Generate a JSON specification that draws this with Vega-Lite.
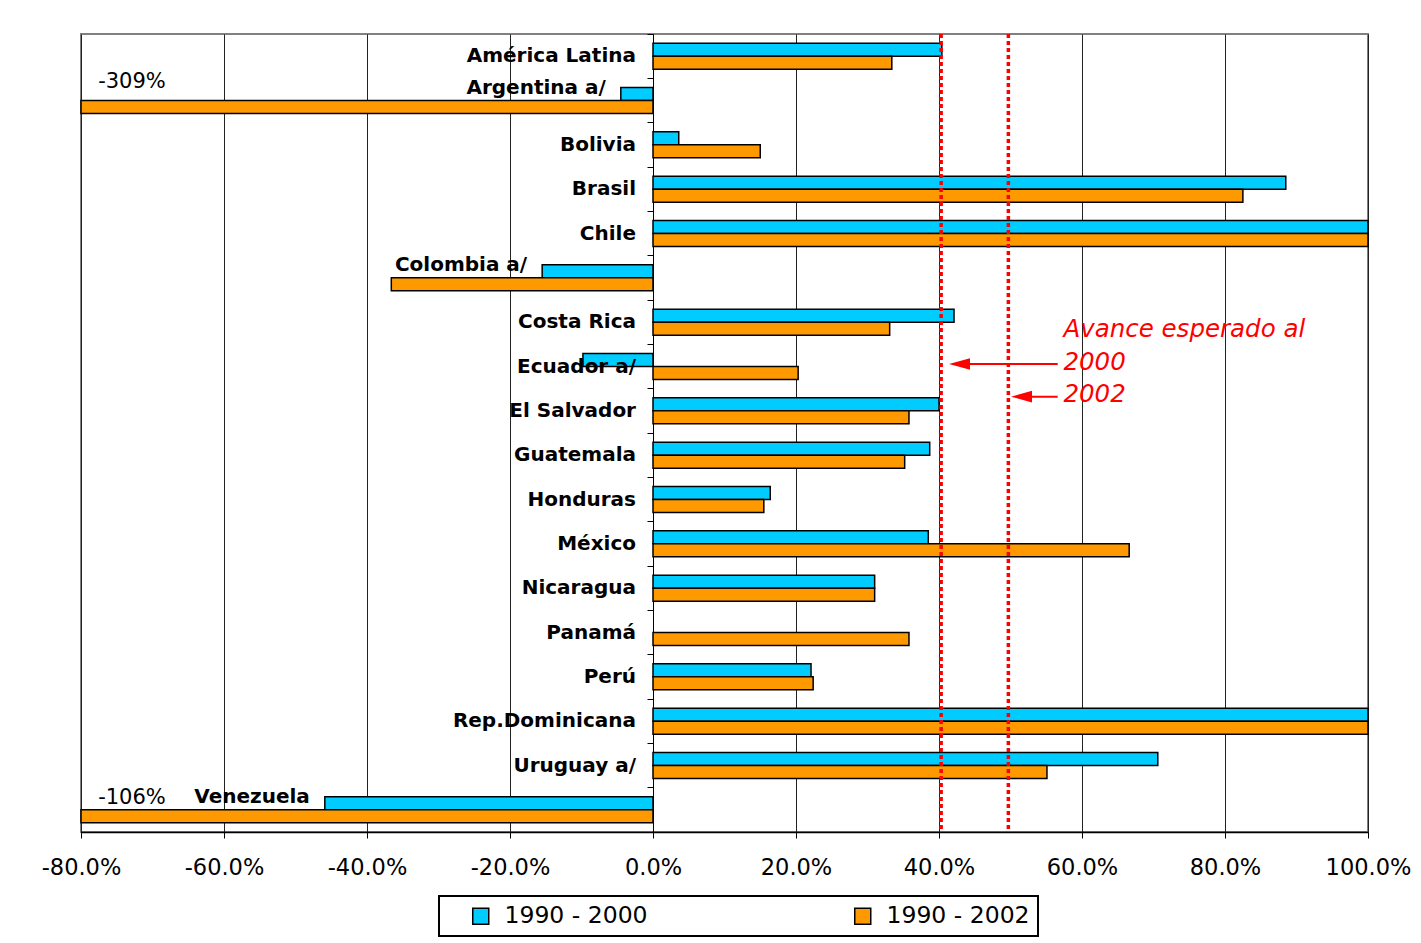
{
  "$schema": "https://vega.github.io/schema/vega-lite/v6.json",
  "width": 1287,
  "height": 798,
  "autosize": {"type": "none"},
  "padding": {"left": 81, "top": 34, "right": 53, "bottom": 111},
  "background": "white",
  "config": {
    "font": "DejaVu Sans",
    "view": {"stroke": "#808080", "strokeWidth": 2},
    "legend": {"strokeWidth": 2}
  },
  "datasets": {
    "barras": [
      {"pais": "América Latina", "periodo": "1990 - 2000", "v": 40.4},
      {"pais": "América Latina", "periodo": "1990 - 2002", "v": 33.4},
      {"pais": "Argentina a/", "periodo": "1990 - 2000", "v": -4.5},
      {"pais": "Argentina a/", "periodo": "1990 - 2002", "v": -309},
      {"pais": "Bolivia", "periodo": "1990 - 2000", "v": 3.6},
      {"pais": "Bolivia", "periodo": "1990 - 2002", "v": 15.0},
      {"pais": "Brasil", "periodo": "1990 - 2000", "v": 88.5},
      {"pais": "Brasil", "periodo": "1990 - 2002", "v": 82.5},
      {"pais": "Chile", "periodo": "1990 - 2000", "v": 100},
      {"pais": "Chile", "periodo": "1990 - 2002", "v": 100},
      {"pais": "Colombia a/", "periodo": "1990 - 2000", "v": -15.5},
      {"pais": "Colombia a/", "periodo": "1990 - 2002", "v": -36.6},
      {"pais": "Costa Rica", "periodo": "1990 - 2000", "v": 42.1},
      {"pais": "Costa Rica", "periodo": "1990 - 2002", "v": 33.1},
      {"pais": "Ecuador a/", "periodo": "1990 - 2000", "v": -9.8},
      {"pais": "Ecuador a/", "periodo": "1990 - 2002", "v": 20.3},
      {"pais": "El Salvador", "periodo": "1990 - 2000", "v": 40.0},
      {"pais": "El Salvador", "periodo": "1990 - 2002", "v": 35.8},
      {"pais": "Guatemala", "periodo": "1990 - 2000", "v": 38.7},
      {"pais": "Guatemala", "periodo": "1990 - 2002", "v": 35.2},
      {"pais": "Honduras", "periodo": "1990 - 2000", "v": 16.4},
      {"pais": "Honduras", "periodo": "1990 - 2002", "v": 15.5},
      {"pais": "México", "periodo": "1990 - 2000", "v": 38.5},
      {"pais": "México", "periodo": "1990 - 2002", "v": 66.6},
      {"pais": "Nicaragua", "periodo": "1990 - 2000", "v": 31.0},
      {"pais": "Nicaragua", "periodo": "1990 - 2002", "v": 31.0},
      {"pais": "Panamá", "periodo": "1990 - 2002", "v": 35.8},
      {"pais": "Perú", "periodo": "1990 - 2000", "v": 22.1},
      {"pais": "Perú", "periodo": "1990 - 2002", "v": 22.4},
      {"pais": "Rep.Dominicana", "periodo": "1990 - 2000", "v": 100},
      {"pais": "Rep.Dominicana", "periodo": "1990 - 2002", "v": 100},
      {"pais": "Uruguay a/", "periodo": "1990 - 2000", "v": 70.6},
      {"pais": "Uruguay a/", "periodo": "1990 - 2002", "v": 55.1},
      {"pais": "Venezuela", "periodo": "1990 - 2000", "v": -45.9},
      {"pais": "Venezuela", "periodo": "1990 - 2002", "v": -106}
    ],
    "paises": [
      {"pais": "América Latina"}, {"pais": "Bolivia"}, {"pais": "Brasil"}, {"pais": "Chile"},
      {"pais": "Costa Rica"}, {"pais": "Ecuador a/"}, {"pais": "El Salvador"}, {"pais": "Guatemala"},
      {"pais": "Honduras"}, {"pais": "México"}, {"pais": "Nicaragua"}, {"pais": "Panamá"},
      {"pais": "Perú"}, {"pais": "Rep.Dominicana"}, {"pais": "Uruguay a/"}
    ],
    "metas": [
      {"anio": "2000", "meta": 40.3},
      {"anio": "2002", "meta": 49.7}
    ]
  },
  "layer": [
    {
      "data": {"name": "barras"},
      "mark": {"type": "bar", "stroke": "black", "strokeWidth": 1.5},
      "encoding": {
        "x": {
          "field": "v", "type": "quantitative",
          "scale": {"domain": [-80, 100], "clamp": true, "nice": false, "zero": false},
          "axis": {
            "title": null,
            "values": [-80, -60, -40, -20, 0, 20, 40, 60, 80, 100],
            "labelExpr": "datum.value + '.0%'",
            "labelFontSize": 22.5, "labelColor": "black", "labelFont": "DejaVu Sans",
            "labelPadding": 18, "labelFlush": false, "labelOverlap": false, "labelBound": false,
            "tickColor": "black", "tickSize": 6, "tickWidth": 1,
            "domainColor": "black", "domainWidth": 1.5,
            "grid": true, "gridColor": "#222222", "gridWidth": 1
          }
        },
        "x2": {"datum": 0},
        "y": {
          "field": "pais", "type": "nominal",
          "scale": {
            "domain": ["América Latina", "Argentina a/", "Bolivia", "Brasil", "Chile", "Colombia a/", "Costa Rica", "Ecuador a/", "El Salvador", "Guatemala", "Honduras", "México", "Nicaragua", "Panamá", "Perú", "Rep.Dominicana", "Uruguay a/", "Venezuela"],
            "paddingInner": 0, "paddingOuter": 0
          },
          "axis": {
            "title": null, "labels": false, "grid": false,
            "offset": -572, "bandPosition": 0,
            "ticks": true, "tickSize": 6, "tickColor": "black", "tickWidth": 1,
            "domain": true, "domainColor": "black", "domainWidth": 1
          }
        },
        "yOffset": {
          "field": "periodo", "type": "nominal",
          "scale": {"domain": ["1990 - 2000", "1990 - 2002"], "paddingInner": 0, "paddingOuter": 0.705}
        },
        "color": {
          "field": "periodo", "type": "nominal",
          "scale": {"domain": ["1990 - 2000", "1990 - 2002"], "range": ["#00CCFF", "#FF9900"]},
          "legend": {
            "orient": "none", "legendX": 358, "legendY": 862,
            "direction": "horizontal", "columns": 2, "columnPadding": 203,
            "title": "  ", "titleOrient": "left", "titleFontSize": 23, "titlePadding": 22,
            "labelFontSize": 23.5, "labelColor": "black", "labelFont": "DejaVu Sans",
            "labelOffset": 12, "labelLimit": 400,
            "symbolType": "square", "symbolSize": 256,
            "symbolStrokeColor": "black", "symbolStrokeWidth": 1.5, "symbolOpacity": 1,
            "strokeColor": "black", "fillColor": "white", "padding": 8
          }
        }
      }
    },
    {
      "data": {"name": "metas"},
      "mark": {"type": "rule", "color": "#FF0000", "strokeDash": [4, 3], "strokeWidth": 3.5},
      "encoding": {
        "x": {"field": "meta", "type": "quantitative"}
      }
    },
    {
      "data": {"name": "paises"},
      "mark": {"type": "text", "align": "right", "baseline": "alphabetic", "dx": -17, "dy": 6, "fontSize": 20, "fontWeight": "bold", "color": "black"},
      "encoding": {
        "x": {"datum": 0},
        "y": {"field": "pais", "type": "nominal"},
        "text": {"field": "pais"}
      }
    },
    {
      "data": {"name": "barras"},
      "transform": [
        {"filter": "datum.periodo == '1990 - 2000' && indexof(['Argentina a/', 'Colombia a/', 'Venezuela'], datum.pais) >= 0"}
      ],
      "mark": {"type": "text", "align": "right", "baseline": "alphabetic", "dx": -15, "dy": -7, "fontSize": 20, "fontWeight": "bold", "color": "black"},
      "encoding": {
        "x": {"field": "v", "type": "quantitative"},
        "y": {"field": "pais", "type": "nominal"},
        "text": {"field": "pais"}
      }
    },
    {
      "data": {"name": "barras"},
      "transform": [
        {"filter": "datum.v < -80 && datum.pais == 'Argentina a/'"},
        {"calculate": "datum.v + '%'", "as": "etiqueta"}
      ],
      "mark": {"type": "text", "align": "left", "baseline": "alphabetic", "dy": -13, "fontSize": 21, "color": "black"},
      "encoding": {
        "x": {"datum": -77.6},
        "y": {"field": "pais", "type": "nominal"},
        "text": {"field": "etiqueta"}
      }
    },
    {
      "data": {"name": "barras"},
      "transform": [
        {"filter": "datum.v < -80 && datum.pais == 'Venezuela'"},
        {"calculate": "datum.v + '%'", "as": "etiqueta"}
      ],
      "mark": {"type": "text", "align": "left", "baseline": "alphabetic", "dy": -6, "fontSize": 21, "color": "black"},
      "encoding": {
        "x": {"datum": -77.6},
        "y": {"field": "pais", "type": "nominal"},
        "text": {"field": "etiqueta"}
      }
    },
    {
      "data": {"values": [{}]},
      "mark": {"type": "text", "text": "Avance esperado al", "align": "left", "baseline": "alphabetic", "fontSize": 24.5, "fontStyle": "italic", "color": "#FF0000"},
      "encoding": {
        "x": {"datum": 57.4},
        "y": {"datum": "Costa Rica", "bandPosition": 0.83}
      }
    },
    {
      "data": {"values": [{}]},
      "mark": {"type": "text", "text": "2000", "align": "left", "baseline": "alphabetic", "fontSize": 24.5, "fontStyle": "italic", "color": "#FF0000"},
      "encoding": {
        "x": {"datum": 57.4},
        "y": {"datum": "Ecuador a/", "bandPosition": 0.58}
      }
    },
    {
      "data": {"values": [{}]},
      "mark": {"type": "text", "text": "2002", "align": "left", "baseline": "alphabetic", "fontSize": 24.5, "fontStyle": "italic", "color": "#FF0000"},
      "encoding": {
        "x": {"datum": 57.4},
        "y": {"datum": "El Salvador", "bandPosition": 0.29}
      }
    },
    {
      "data": {"values": [{}]},
      "mark": {"type": "rule", "color": "#FF0000", "strokeWidth": 2},
      "encoding": {
        "x": {"datum": 42.9},
        "x2": {"datum": 56.6},
        "y": {"datum": "Ecuador a/", "bandPosition": 0.444}
      }
    },
    {
      "data": {"values": [{}]},
      "mark": {"type": "rule", "color": "#FF0000", "strokeWidth": 2},
      "encoding": {
        "x": {"datum": 51.5},
        "x2": {"datum": 56.6},
        "y": {"datum": "El Salvador", "bandPosition": 0.18}
      }
    },
    {
      "data": {"values": [{}]},
      "mark": {"type": "point", "shape": "M -1 0 L 1 -0.55 L 1 0.55 Z", "filled": true, "color": "#FF0000", "size": 441, "opacity": 1, "strokeWidth": 0},
      "encoding": {
        "x": {"datum": 42.87},
        "y": {"datum": "Ecuador a/", "bandPosition": 0.444}
      }
    },
    {
      "data": {"values": [{}]},
      "mark": {"type": "point", "shape": "M -1 0 L 1 -0.55 L 1 0.55 Z", "filled": true, "color": "#FF0000", "size": 441, "opacity": 1, "strokeWidth": 0},
      "encoding": {
        "x": {"datum": 51.54},
        "y": {"datum": "El Salvador", "bandPosition": 0.18}
      }
    }
  ]
}
